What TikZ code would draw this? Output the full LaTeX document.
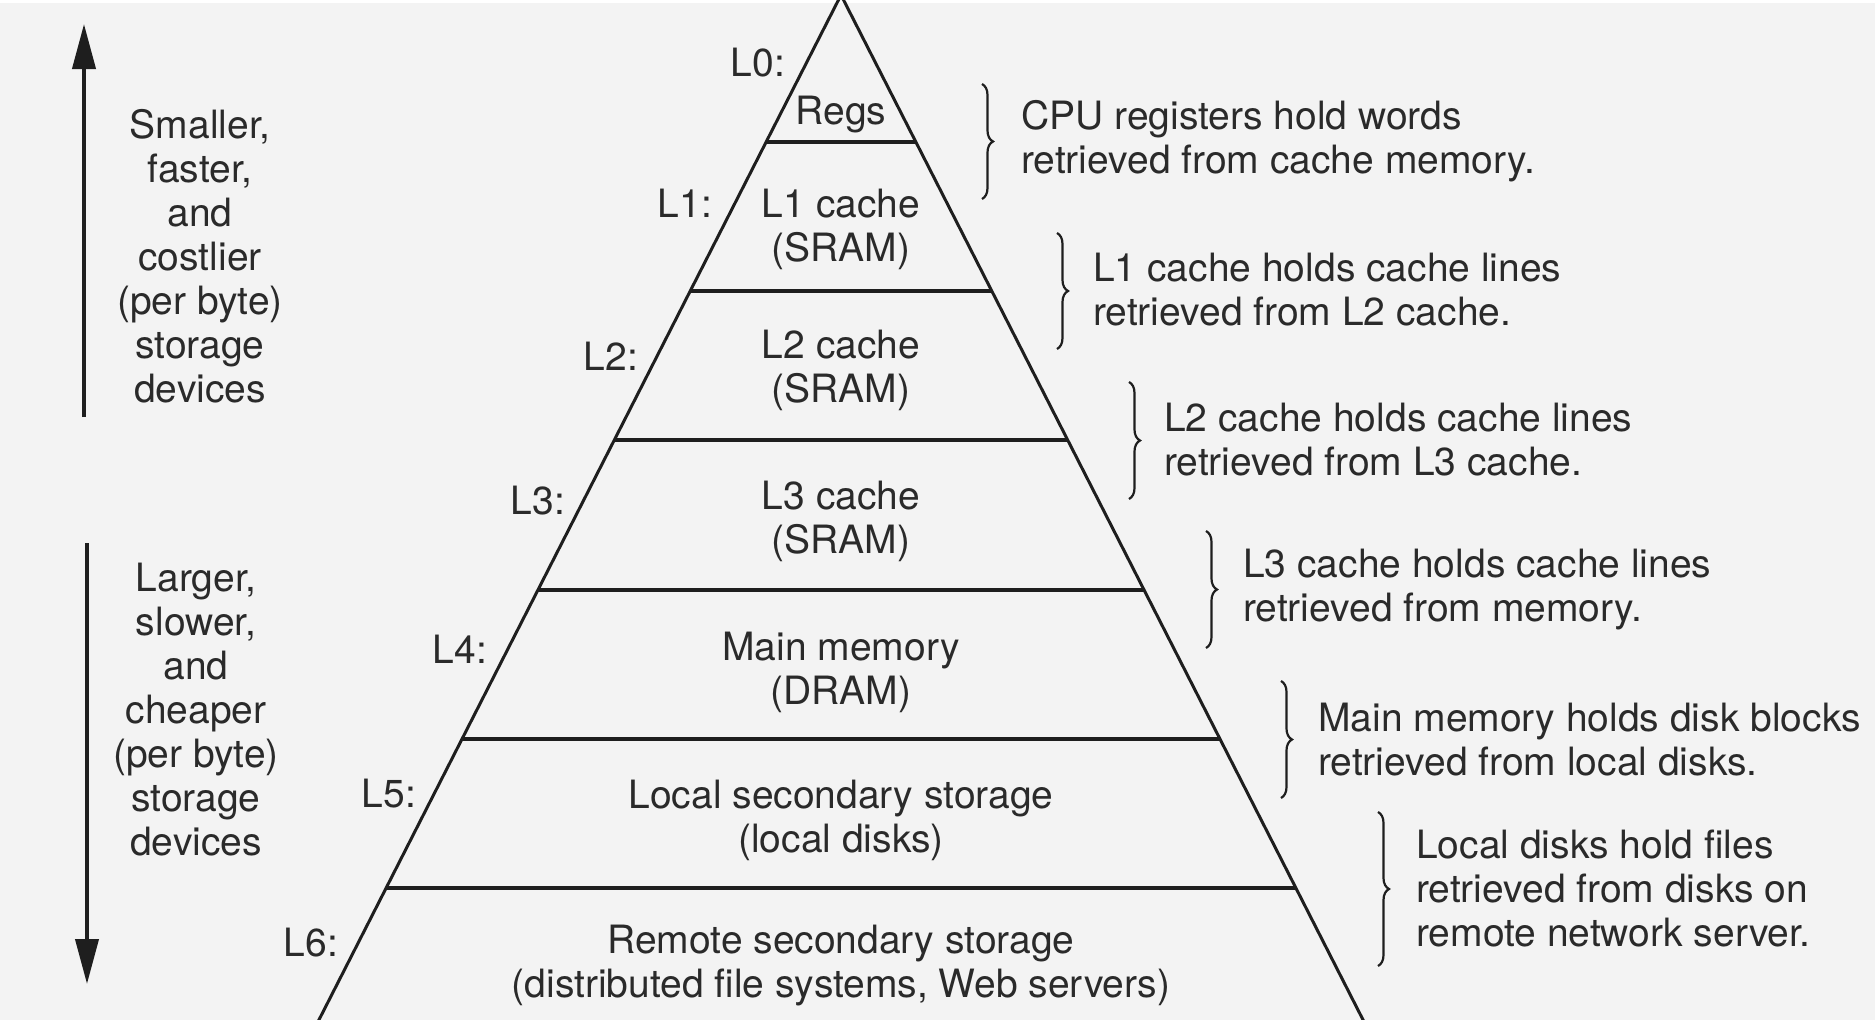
\documentclass[tikz,border=0pt]{standalone}
\usepackage{fontspec}
\setmainfont{TeX Gyre Heros}
\usetikzlibrary{arrows.meta,calc,decorations.pathreplacing}
\definecolor{bgc}{HTML}{F3F3F3}
\definecolor{ink}{HTML}{1E1E1E}
\definecolor{txt}{HTML}{2A2A2A}
\begin{document}
\begin{tikzpicture}[x=1pt,y=-1pt,
  lbl/.style={font=\fontsize{39}{44}\selectfont, text=txt, inner sep=0pt, align=center},
  rtxt/.style={font=\fontsize{39}{44}\selectfont, text=txt, inner sep=0pt, align=left, anchor=west},
  lvl/.style={font=\fontsize{39}{44}\selectfont, text=txt, inner sep=0pt},
  edge/.style={draw=ink, line width=3pt},
  layer/.style={draw=ink, line width=4.5pt},
  bigarrow/.style={draw=ink, line width=4pt, -{Triangle[length=45pt,width=23pt]}},
  rbrace/.style={draw=ink, line width=2.2pt, decorate, decoration={brace, amplitude=11pt}}
]
\useasboundingbox (0,0) rectangle (1875,1020);
\clip (0,0) rectangle (1875,1020);
\fill[bgc] (0,0) rectangle (1875,1020);
\fill[white] (0,0) rectangle (1875,3);

% pyramid
\coordinate (apex) at (841,-5);
\coordinate (bl) at (308.7,1040);
\coordinate (br) at (1373.3,1040);
\draw[edge] (bl) -- (apex) -- (br);
\foreach \t in {0.14067,0.28325,0.42584,0.56938,0.71196,0.85455}{
  \draw[layer] ($(apex)!\t!(bl)$) -- ($(apex)!\t!(br)$);
}

% pyramid contents
\node[lbl] (regs) at (841,115) {Regs};
\node[lbl] (l1c) at (841,229) {L1 cache\\(SRAM)};
\node[lbl] (l2c) at (841,370) {L2 cache\\(SRAM)};
\node[lbl] (l3c) at (841,521) {L3 cache\\(SRAM)};
\node[lbl] (mm) at (841,672) {Main memory\\(DRAM)};
\node[lbl] (lss) at (841,820) {Local secondary storage\\(local disks)};
\node[lbl] (rss) at (841,966) {Remote secondary storage\\(distributed file systems, Web servers)};

% level labels
\node[lvl] (L0) at (758,63) {L0:};
\node[lvl] (L1) at (685,203) {L1:};
\node[lvl] (L2) at (611,356) {L2:};
\node[lvl] (L3) at (538,501) {L3:};
\node[lvl] (L4) at (460,649) {L4:};
\node[lvl] (L5) at (389,794) {L5:};
\node[lvl] (L6) at (311,943) {L6:};

% left arrows and texts
\coordinate (upS) at (84,417);
\coordinate (upE) at (84,24);
\draw[bigarrow] (upS) -- (upE);
\coordinate (dnS) at (87,543);
\coordinate (dnE) at (87,984);
\draw[bigarrow] (dnS) -- (dnE);
\node[lbl] (smaller) at (200,256) {Smaller,\\faster,\\and\\costlier\\(per byte)\\storage\\devices};
\node[lbl] (larger) at (196,710) {Larger,\\slower,\\and\\cheaper\\(per byte)\\storage\\devices};

% braces and descriptions
\coordinate (b1t) at (982,84);   \coordinate (b1b) at (982,199);
\coordinate (b2t) at (1057,233); \coordinate (b2b) at (1057,349);
\coordinate (b3t) at (1129,382); \coordinate (b3b) at (1129,499);
\coordinate (b4t) at (1206,531); \coordinate (b4b) at (1206,648);
\coordinate (b5t) at (1281,681); \coordinate (b5b) at (1281,798);
\coordinate (b6t) at (1378,812); \coordinate (b6b) at (1378,966);
\draw[rbrace] (b1t) -- (b1b);
\draw[rbrace] (b2t) -- (b2b);
\draw[rbrace] (b3t) -- (b3b);
\draw[rbrace] (b4t) -- (b4b);
\draw[rbrace] (b5t) -- (b5b);
\draw[rbrace] (b6t) -- (b6b);
\node[rtxt] (d1) at (1021,141) {CPU registers hold words\\retrieved from cache memory.};
\node[rtxt] (d2) at (1093,290) {L1 cache holds cache lines\\retrieved from L2 cache.};
\node[rtxt] (d3) at (1164,440) {L2 cache holds cache lines\\retrieved from L3 cache.};
\node[rtxt] (d4) at (1243,590) {L3 cache holds cache lines\\retrieved from memory.};
\node[rtxt] (d5) at (1318,740) {Main memory holds disk blocks\\retrieved from local disks.};
\node[rtxt] (d6) at (1416,889) {Local disks hold files\\retrieved from disks on\\remote network server.};
\end{tikzpicture}
\end{document}
